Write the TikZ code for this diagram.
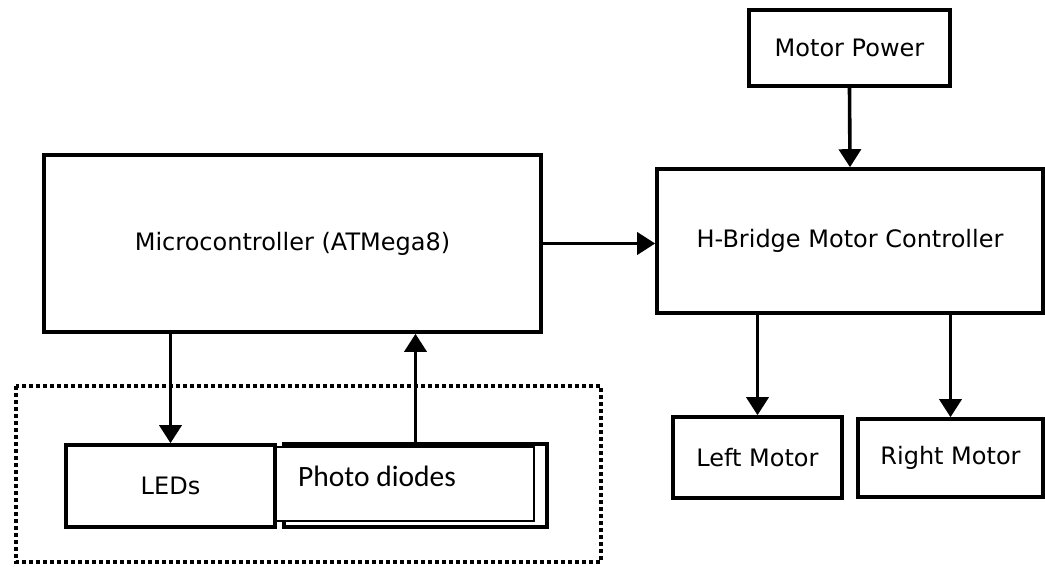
\documentclass[tikz,border=0pt]{standalone}
\usepackage{fontspec}
\setmainfont{DejaVu Sans}
\newfontfamily\calibri{Carlito}
\usetikzlibrary{arrows.meta}
\begin{document}
\begin{tikzpicture}[x=1pt,y=-1pt,
  blk/.style={draw, line width=3.6pt, inner sep=0pt, fill=white, font=\fontsize{24}{28}\selectfont},
  arr/.style={line width=3.6pt, -{Triangle[length=18pt,width=22pt]}},
  grp/.style={line width=3.6pt, dash pattern=on 3.6pt off 3.4pt}]
\useasboundingbox (0,0) rectangle (1045,567);
\draw[grp] (16,386) rectangle (601,562);
\node[blk, minimum width=497pt, minimum height=177pt] (mc) at (292.5,243.5) {Microcontroller (ATMega8)};
\node[blk, minimum width=386pt, minimum height=144pt] (hb) at (850,241) {H-Bridge Motor Controller};
\node[blk, minimum width=201pt, minimum height=76pt] (mp) at (849.5,48) {Motor Power};
\node[blk, minimum width=169pt, minimum height=81pt] (lm) at (757.5,457.5) {Left Motor};
\node[blk, minimum width=185pt, minimum height=78pt] (rm) at (950.5,458) {Right Motor};
\node[blk, minimum width=209pt, minimum height=82pt] (leds) at (170.5,486) {LEDs};
\node[blk, minimum width=263pt, minimum height=83pt] (pd) at (415.5,485.5) {};
\node[draw, line width=2.2pt, fill=white, inner sep=0pt, minimum width=258pt, minimum height=74pt] (pdi) at (405,484) {};
\node[anchor=base west, inner sep=0pt, font=\calibri\fontsize{29.5}{33}\selectfont] (pdt) at (298,486) {Photo diodes};
\draw[arr] (mc.east) -- (mc.east -| hb.west);
\draw[arr] (mp.south) -- (hb.north);
\draw[arr] (lm.north |- hb.south) -- (lm.north);
\draw[arr] (rm.north |- hb.south) -- (rm.north);
\draw[arr] (leds.north |- mc.south) -- (leds.north);
\draw[arr] (pd.north) -- (pd.north |- mc.south);
\end{tikzpicture}
\end{document}
